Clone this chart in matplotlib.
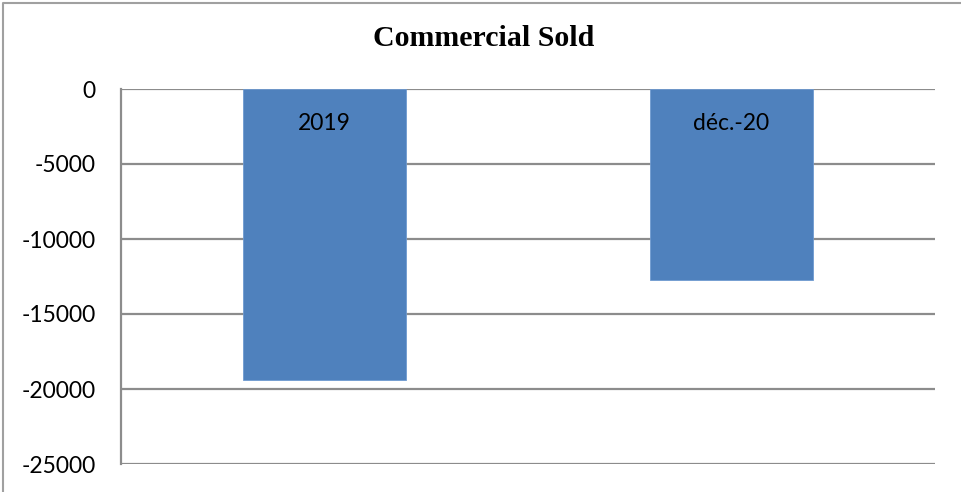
import matplotlib
matplotlib.use("Agg")
import matplotlib.pyplot as plt
from matplotlib.lines import Line2D

# Data
categories = ["2019", "déc.-20"]
values = [-19400, -12750]
yticks = [0, -5000, -10000, -15000, -20000, -25000]

bar_color = "#4F81BD"
grid_color = "#8C8C8C"

fig = plt.figure(figsize=(9.62, 4.92), dpi=100)
fig.patch.set_facecolor("white")

# Outer chart frame: left and top edges
fx, fy = 3 / 962, 1 - 2.5 / 492
fig.add_artist(Line2D([fx, fx, 1.0], [0.0, fy, fy], transform=fig.transFigure,
                      color="#A0A0A0", linewidth=1.5))

ax = fig.add_axes([121 / 962, 1 - 464 / 492, (935 - 121) / 962, (464 - 89) / 492])

x = list(range(len(categories)))
ax.bar(x, values, width=0.4, color=bar_color, edgecolor="#6F9AD0",
       linewidth=0.6, zorder=3)

ax.set_xlim(-0.5, len(categories) - 0.5)
ax.set_ylim(-25000, 0)
ax.set_yticks(yticks)
ax.set_yticklabels([str(v) for v in yticks], fontfamily="Lato", fontsize=16.5)
ax.set_xticks([])

ax.yaxis.grid(True, color=grid_color, linewidth=1.6, zorder=0)
ax.tick_params(axis="y", length=0, pad=18)

for side in ["top", "right", "bottom"]:
    ax.spines[side].set_visible(False)
ax.spines["left"].set_color(grid_color)
ax.spines["left"].set_linewidth(1.6)

# Category names inside bars
for xi, name in zip(x, categories):
    ax.annotate(name, xy=(xi, 0), xytext=(0, -34 * 72 / 100),
                textcoords="offset points", ha="center", va="center",
                fontfamily="Lato", fontsize=16.5, color="black", zorder=4)

fig.text((375 + 592) / 2 / 962, 1 - 38 / 492, "Commercial Sold",
         ha="center", va="center", fontfamily="Liberation Serif",
         fontweight="bold", fontsize=21.5)

fig.savefig("out.png", dpi=100, facecolor="white")
